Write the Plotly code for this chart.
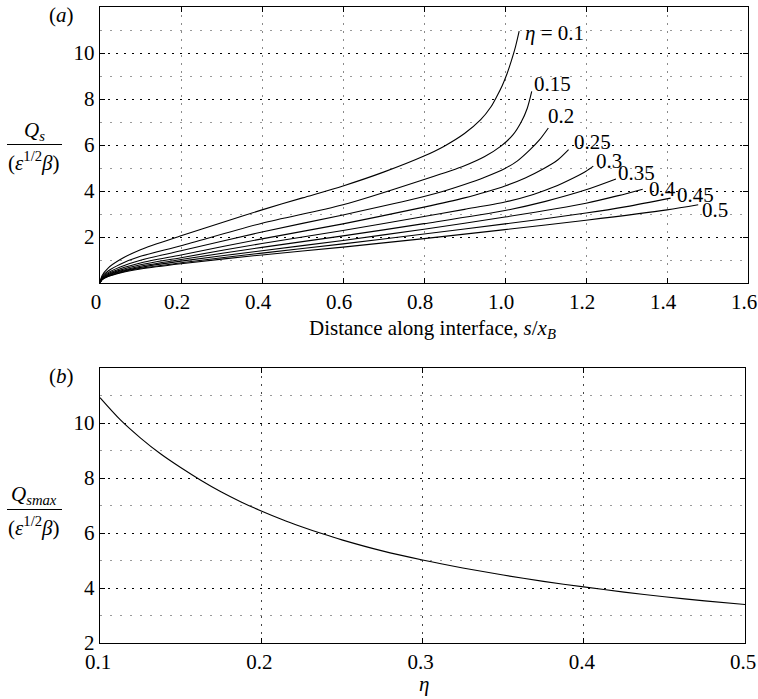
import plotly.graph_objects as go

# ---------------- data: panel (a) ----------------
eta_labels = ["0.1", "0.15", "0.2", "0.25", "0.3", "0.35", "0.4", "0.45", "0.5"]

s_01 = [0, 0.005, 0.02, 0.05, 0.1, 0.2, 0.3, 0.4, 0.5, 0.6, 0.7, 0.8, 0.85, 0.9, 0.94, 0.965, 0.98, 0.993, 1.005, 1.016, 1.026, 1.035]
q_01 = [0, 0.32, 0.65, 1.02, 1.45, 2.05, 2.62, 3.18, 3.7, 4.22, 4.82, 5.52, 5.95, 6.5, 7.1, 7.65, 8.12, 8.58, 9.1, 9.68, 10.28, 10.95]

s_015 = [0, 0.005, 0.02, 0.05, 0.1, 0.2, 0.4, 0.6, 0.8, 0.9, 0.95, 0.99, 1.02, 1.04, 1.055, 1.066]
q_015 = [0, 0.26, 0.52, 0.82, 1.16, 1.62, 2.6, 3.4, 4.5, 5.1, 5.5, 5.95, 6.45, 7.0, 7.6, 8.33]

s_02 = [0, 0.005, 0.02, 0.05, 0.1, 0.2, 0.4, 0.6, 0.8, 0.85, 0.9, 0.95, 1.0, 1.03, 1.062, 1.085, 1.107]
q_02 = [0, 0.23, 0.45, 0.7, 0.99, 1.4, 2.22, 2.96, 3.76, 4.0, 4.28, 4.6, 4.98, 5.3, 5.8, 6.22, 6.74]

s_025 = [0, 0.005, 0.02, 0.05, 0.1, 0.2, 0.4, 0.6, 0.8, 0.9, 0.955, 1.0, 1.05, 1.095, 1.13, 1.157]
q_025 = [0, 0.2, 0.4, 0.62, 0.87, 1.22, 1.92, 2.57, 3.3, 3.7, 3.97, 4.22, 4.57, 4.97, 5.35, 5.8]

s_03 = [0, 0.005, 0.02, 0.05, 0.1, 0.2, 0.4, 0.6, 0.8, 0.9, 1.0, 1.07, 1.12, 1.17, 1.2, 1.218]
q_03 = [0, 0.18, 0.36, 0.56, 0.79, 1.1, 1.72, 2.28, 2.89, 3.2, 3.52, 3.85, 4.17, 4.58, 4.86, 5.08]

s_035 = [0, 0.005, 0.02, 0.05, 0.1, 0.2, 0.4, 0.6, 0.8, 1.0, 1.1, 1.2, 1.274]
q_035 = [0, 0.165, 0.33, 0.52, 0.73, 1.02, 1.55, 2.05, 2.58, 3.15, 3.55, 4.05, 4.52]

s_04 = [0, 0.005, 0.02, 0.05, 0.1, 0.2, 0.4, 0.6, 0.8, 1.0, 1.2, 1.28, 1.34]
q_04 = [0, 0.155, 0.31, 0.49, 0.68, 0.95, 1.40, 1.85, 2.34, 2.87, 3.47, 3.8, 4.08]

s_045 = [0, 0.005, 0.02, 0.05, 0.1, 0.2, 0.4, 0.6, 0.8, 1.0, 1.2, 1.3, 1.409]
q_045 = [0, 0.145, 0.29, 0.46, 0.64, 0.88, 1.30, 1.70, 2.13, 2.57, 3.04, 3.32, 3.69]

s_05 = [0, 0.005, 0.02, 0.05, 0.1, 0.2, 0.4, 0.6, 0.8, 1.0, 1.2, 1.4, 1.477]
q_05 = [0, 0.14, 0.28, 0.44, 0.61, 0.84, 1.22, 1.56, 1.93, 2.32, 2.73, 3.18, 3.40]

curves_s = [s_01, s_015, s_02, s_025, s_03, s_035, s_04, s_045, s_05]
curves_q = [q_01, q_015, q_02, q_025, q_03, q_035, q_04, q_045, q_05]

# label anchor positions (data coords of label's left-middle)
label_s = [1.047, 1.069, 1.103, 1.167, 1.222, 1.277, 1.352, 1.422, 1.484]
label_q = [10.89, 8.65, 7.28, 6.12, 5.32, 4.78, 4.09, 3.82, 3.16]

# ---------------- data: panel (b) ----------------
eta_b = [0.1, 0.1125, 0.125, 0.1375, 0.15, 0.1625, 0.175, 0.1875, 0.2, 0.2125, 0.225, 0.2375,
         0.25, 0.275, 0.3, 0.325, 0.35, 0.375, 0.4, 0.425, 0.45, 0.475, 0.5]
qmax_b = [10.92, 10.12, 9.46, 8.88, 8.38, 7.92, 7.5, 7.13, 6.8, 6.5, 6.23, 5.98,
          5.75, 5.35, 5.02, 4.73, 4.47, 4.24, 4.04, 3.85, 3.68, 3.53, 3.40]

xa_ticks = [0, 0.2, 0.4, 0.6, 0.8, 1.0, 1.2, 1.4, 1.6]
xa_text = ["0", "0.2", "0.4", "0.6", "0.8", "1.0", "1.2", "1.4", "1.6"]
xb_ticks = [0.1, 0.2, 0.3, 0.4, 0.5]
xb_text = ["0.1", "0.2", "0.3", "0.4", "0.5"]
y_ticks = [2, 4, 6, 8, 10]
ya_minor = [1, 3, 5, 7, 9, 11]
yb_minor = [3, 5, 7, 9, 11]

# ---------------- figure ----------------
W, H = 758, 699
FONT = "Liberation Serif, Times New Roman, serif"
FS = 21

def px_x(p):
    return p / W

def px_y(p):
    return 1 - p / H

fig = go.Figure()
for s, q in zip(curves_s, curves_q):
    fig.add_trace(go.Scatter(x=s, y=q, mode="lines", xaxis="x", yaxis="y",
                             line=dict(color="black", width=1.1, shape="spline", smoothing=0.8),
                             showlegend=False, hoverinfo="skip"))
fig.add_trace(go.Scatter(x=eta_b, y=qmax_b, mode="lines", xaxis="x2", yaxis="y2",
                         line=dict(color="black", width=1.1, shape="spline", smoothing=0.8),
                         showlegend=False, hoverinfo="skip"))

axis_common = dict(showline=True, linecolor="black", linewidth=1.4, mirror="allticks",
                   ticks="inside", ticklen=5, tickcolor="black", tickwidth=1,
                   zeroline=False, automargin=False, ticklabeloverflow="allow",
                   tickfont=dict(family=FONT, size=FS, color="black"))

fig.update_layout(
    width=W, height=H,
    margin=dict(l=0, r=0, t=0, b=0),
    paper_bgcolor="white", plot_bgcolor="white",
    showlegend=False,
    xaxis=dict(domain=[px_x(100), px_x(748)], range=[0, 1.6], anchor="y",
               tickmode="array", tickvals=xa_ticks, ticktext=xa_text, ticklabelshift=-4,
               showgrid=True, gridcolor="#8a8a8a", gridwidth=1, griddash="2px,6px",
               **axis_common),
    yaxis=dict(domain=[px_y(283), px_y(7)], range=[0, 12], anchor="x",
               tickmode="array", tickvals=y_ticks,
               showgrid=True, gridcolor="black", gridwidth=1, griddash="2px,6px",
               minor=dict(tickmode="array", tickvals=ya_minor, showgrid=True,
                          gridcolor="#9a9a9a", gridwidth=1, griddash="2px,8px", ticks=""),
               **axis_common),
    xaxis2=dict(domain=[px_x(100), px_x(745)], range=[0.1, 0.5], anchor="y2",
                tickmode="array", tickvals=xb_ticks, ticktext=xb_text, ticklabelshift=-2,
                showgrid=True, gridcolor="#444444", gridwidth=1, griddash="2px,6px",
                **axis_common),
    yaxis2=dict(domain=[px_y(643), px_y(368)], range=[2, 12], anchor="x2",
                tickmode="array", tickvals=y_ticks,
                showgrid=True, gridcolor="black", gridwidth=1, griddash="2px,6px",
                minor=dict(tickmode="array", tickvals=yb_minor, showgrid=True,
                           gridcolor="#9a9a9a", gridwidth=1, griddash="2px,8px", ticks=""),
                **axis_common),
)

tfont = dict(family=FONT, size=FS, color="black")
ann = []
# curve labels
for i, (ls, lq, lab) in enumerate(zip(label_s, label_q, eta_labels)):
    txt = "<i>η</i> = " + lab if i == 0 else lab
    ann.append(dict(x=ls, y=lq, xref="x", yref="y", text=txt, showarrow=False,
                    xanchor="left", yanchor="middle", font=tfont, borderpad=0))

# panel letters
ann.append(dict(x=px_x(61), y=px_y(15), xref="paper", yref="paper", text="(<i>a</i>)",
                showarrow=False, xanchor="center", yanchor="middle", font=tfont))
ann.append(dict(x=px_x(61), y=px_y(376), xref="paper", yref="paper", text="(<i>b</i>)",
                showarrow=False, xanchor="center", yanchor="middle", font=tfont))

# axis titles
ann.append(dict(x=px_x(432), y=px_y(329), xref="paper", yref="paper",
                text="Distance along interface, <i>s</i>/<i>x<sub>B</sub></i>",
                showarrow=False, xanchor="center", yanchor="middle", font=tfont))
ann.append(dict(x=px_x(424), y=px_y(684), xref="paper", yref="paper", text="<i>η</i>",
                showarrow=False, xanchor="center", yanchor="middle", font=tfont))

# y-axis fraction titles
ann.append(dict(x=px_x(34), y=px_y(145), xref="paper", yref="paper", text="<i>Q<sub>s</sub></i>",
                showarrow=False, xanchor="center", yanchor="bottom", font=tfont, borderpad=0))
ann.append(dict(x=px_x(34), y=px_y(147), xref="paper", yref="paper", text="(<i>ε</i><sup>1/2</sup><i>β</i>)",
                showarrow=False, xanchor="center", yanchor="top", font=tfont, borderpad=0))
ann.append(dict(x=px_x(34), y=px_y(509), xref="paper", yref="paper", text="<i>Q<sub>smax</sub></i>",
                showarrow=False, xanchor="center", yanchor="bottom", font=tfont, borderpad=0))
ann.append(dict(x=px_x(34), y=px_y(512), xref="paper", yref="paper", text="(<i>ε</i><sup>1/2</sup><i>β</i>)",
                showarrow=False, xanchor="center", yanchor="top", font=tfont, borderpad=0))

fig.update_layout(annotations=ann)

shapes = [
    dict(type="line", xref="paper", yref="paper", x0=px_x(7), x1=px_x(62),
         y0=px_y(144.5), y1=px_y(144.5), line=dict(color="black", width=1)),
    dict(type="line", xref="paper", yref="paper", x0=px_x(7), x1=px_x(62),
         y0=px_y(509.5), y1=px_y(509.5), line=dict(color="black", width=1)),
]
fig.update_layout(shapes=shapes)

fig.write_html("out.html", config={"displayModeBar": False},
               post_script="document.body.style.margin='0';document.body.style.overflow='hidden';")
